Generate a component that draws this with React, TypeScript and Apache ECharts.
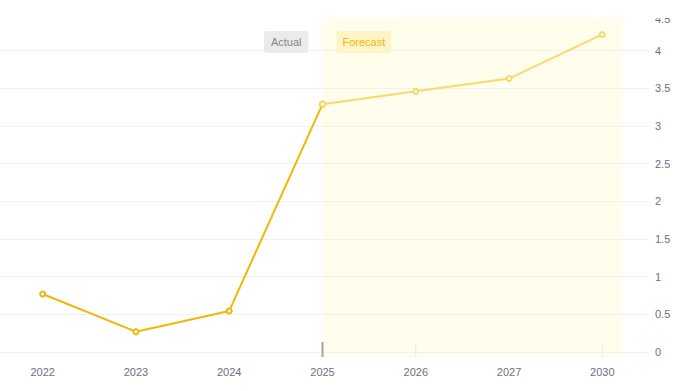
import React, { useEffect, useRef } from 'react';
import * as echarts from 'echarts';

const categories = ['2022', '2023', '2024', '2025', '2026', '2027', '2030'];
const actualValues: (number | string)[] = [0.77, 0.27, 0.545, 3.29, '-', '-', '-'];
const forecastValues: (number | string)[] = ['-', '-', '-', 3.29, 3.46, 3.63, 4.215];
const yMin = 0;
const yMax = 4.5;
const yStep = 0.5;
const legendLabels = ['Actual', 'Forecast'];
const forecastStart = '2025';
const forecastEnd = '2030';
const lightTicks = ['2026', '2030'];

const FONT = '"Liberation Sans", Arial, sans-serif';
const ACTUAL_COLOR = '#f2b705';
const FORECAST_COLOR = '#f8d96c';
const SHIFT = 4;

export default function App() {
  const ref = useRef<HTMLDivElement>(null);

  useEffect(() => {
    document.body.style.margin = '0';
    document.body.style.overflow = 'hidden';
    if (!ref.current) return;
    const chart = echarts.init(ref.current, undefined, { renderer: 'svg' });
    chart.setOption({
      animation: false,
      backgroundColor: '#ffffff',
      grid: { left: 0, right: 31, top: 13, bottom: 39, containLabel: false },
      xAxis: {
        type: 'category',
        data: categories,
        boundaryGap: true,
        axisLine: { show: false },
        axisTick: { show: false },
        axisLabel: { color: '#6b7080', fontSize: 11, fontFamily: FONT, margin: 14 },
        splitLine: { show: false },
      },
      yAxis: {
        type: 'value',
        position: 'right',
        min: yMin,
        max: yMax,
        interval: yStep,
        axisLine: { show: false },
        axisTick: { show: false },
        axisLabel: {
          color: '#6b7080',
          fontSize: 11,
          fontFamily: FONT,
          margin: 6,
          verticalAlignMaxLabel: 'top',
        },
        splitLine: { lineStyle: { color: '#f1f1f1', width: 1 } },
      },
      series: [
        {
          name: legendLabels[0],
          type: 'line',
          data: actualValues,
          symbol: 'emptyCircle',
          symbolSize: 5,
          z: 3,
          lineStyle: { color: ACTUAL_COLOR, width: 2 },
          itemStyle: { color: ACTUAL_COLOR, borderColor: ACTUAL_COLOR, borderWidth: 1.5 },
        },
        {
          name: legendLabels[1],
          type: 'line',
          data: forecastValues,
          symbol: 'emptyCircle',
          symbolSize: 5,
          z: 4,
          lineStyle: { color: FORECAST_COLOR, width: 2 },
          itemStyle: { color: FORECAST_COLOR, borderColor: FORECAST_COLOR, borderWidth: 1.5 },
        },
      ],
    });

    const xs = chart.convertToPixel({ xAxisIndex: 0 }, forecastStart) as number;
    const xe = chart.convertToPixel({ xAxisIndex: 0 }, forecastEnd) as number;
    const xPrev = chart.convertToPixel({ xAxisIndex: 0 }, categories[categories.length - 2]) as number;
    const catW = xe - xPrev;
    const yTop = chart.convertToPixel({ yAxisIndex: 0 }, yMax) as number;
    const yZero = chart.convertToPixel({ yAxisIndex: 0 }, yMin) as number;

    const tickEls = lightTicks.map((c) => {
      const x = chart.convertToPixel({ xAxisIndex: 0 }, c) as number;
      return {
        type: 'line',
        z: 5,
        shape: { x1: x, y1: yZero - 9, x2: x, y2: yZero + 5 },
        style: { stroke: '#e9e9e9', lineWidth: 1 },
      };
    });

    chart.setOption({
      graphic: [
        {
          type: 'rect',
          z: -10,
          shape: { x: xs, y: yTop + 5, width: xe - xs + catW * 0.215, height: yZero - yTop },
          style: { fill: '#fffdeb' },
        },
        ...tickEls,
        {
          type: 'line',
          z: 6,
          shape: { x1: xs, y1: yZero - 10, x2: xs, y2: yZero + 5 },
          style: { stroke: '#a6a49a', lineWidth: 2 },
        },
        {
          type: 'text',
          z: 10,
          x: xs - 14,
          y: 31,
          style: {
            text: legendLabels[0],
            fontSize: 11,
            fontFamily: FONT,
            fill: '#878787',
            align: 'right',
            verticalAlign: 'top',
            lineHeight: 12,
            backgroundColor: '#ebebeb',
            padding: [5, 7],
            borderRadius: 3,
          },
        },
        {
          type: 'text',
          z: 10,
          x: xs + 14,
          y: 31,
          style: {
            text: legendLabels[1],
            fontSize: 11,
            fontFamily: FONT,
            fill: '#f2b705',
            align: 'left',
            verticalAlign: 'top',
            lineHeight: 12,
            backgroundColor: '#fff4c6',
            padding: [5, 6],
            borderRadius: 3,
          },
        },
        {
          type: 'rect',
          z: 1000,
          zlevel: 10,
          shape: { x: 0, y: 0, width: 680 + SHIFT, height: 18 },
          style: { fill: '#ffffff' },
        },
      ],
    });

    return () => chart.dispose();
  }, []);

  return <div ref={ref} style={{ width: 680 + SHIFT, height: 391, marginLeft: -SHIFT }} />;
}
